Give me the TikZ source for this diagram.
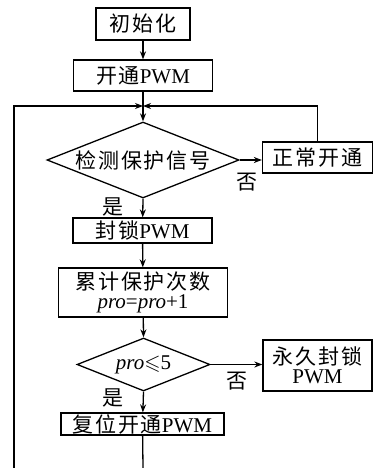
\documentclass[tikz,border=0pt]{standalone}
\usepackage{fontspec}
\usepackage{amssymb}
\setmainfont{Liberation Serif}
\newfontfamily\cjk[LetterSpace=8]{Noto Sans CJK SC}
\usetikzlibrary{shapes.geometric,arrows.meta}
\begin{document}
\begin{tikzpicture}[x=1pt,y=-1pt,
  font=\fontsize{21}{22}\selectfont,
  line width=1.3pt,
  arr/.style={-{Stealth[length=8pt,width=6pt]}},
  box/.style={draw,rectangle,inner sep=0pt,align=center},
  dia/.style={draw,diamond,inner sep=0pt,aspect=2.5},
  lbl/.style={inner sep=0pt}]
\useasboundingbox (0,0) rectangle (377,468);
\node[box,minimum width=94pt,minimum height=32pt] (init) at (143,24) {{\cjk 初始化}};
\node[box,minimum width=139pt,minimum height=31pt] (open) at (143,75.5) {{\cjk 开通}PWM};
\node[dia,minimum width=192pt,minimum height=76pt] (d1) at (143,160) {{\cjk 检测保护信号}};
\node[box,minimum width=110pt,minimum height=31pt] (norm) at (317.5,157.5) {{\cjk 正常开通}};
\node[box,minimum width=139pt,minimum height=25pt] (lock) at (142.5,230.5) {{\cjk 封锁}PWM};
\node[box,minimum width=169pt,minimum height=49pt] (cnt) at (143,292.5) {{\cjk 累计保护次数}\\[-3pt]\textit{pro}=\textit{pro}+1};
\node[dia,minimum width=133pt,minimum height=53pt] (d2) at (143.5,364.5) {\textit{pro}$\leqslant$5};
\node[box,minimum width=109pt,minimum height=51pt] (perm) at (317.5,365.5) {{\cjk 永久封锁}\\[-3pt]PWM};
\node[box,minimum width=163pt,minimum height=22pt] (reset) at (142.5,424) {{\cjk 复位开通}PWM};
\coordinate (J) at (143,106);
\coordinate (Lb) at (14,468);
\coordinate (Rb) at (143,468);
\node[lbl] (no1) at (247,182) {\cjk 否};
\node[lbl] (yes1) at (113,207) {\cjk 是};
\node[lbl] (no2) at (237,381) {\cjk 否};
\node[lbl] (yes2) at (113,398) {\cjk 是};
\draw[arr] (init) -- (open);
\draw[arr] (open) -- (d1.north);
\draw[arr] (d1.east) -- (d1.east -| norm.west);
\draw[arr] (norm.north) |- (J);
\draw[arr] (Lb) |- (J);
\draw[arr] (d1.south) -- (lock);
\draw[arr] (lock) -- (cnt);
\draw[arr] (cnt) -- (d2.north);
\draw[arr] (d2.east) -- (d2.east -| perm.west);
\draw[arr] (d2.south) -- (reset);
\draw (reset) -- (Rb);
\end{tikzpicture}
\end{document}
